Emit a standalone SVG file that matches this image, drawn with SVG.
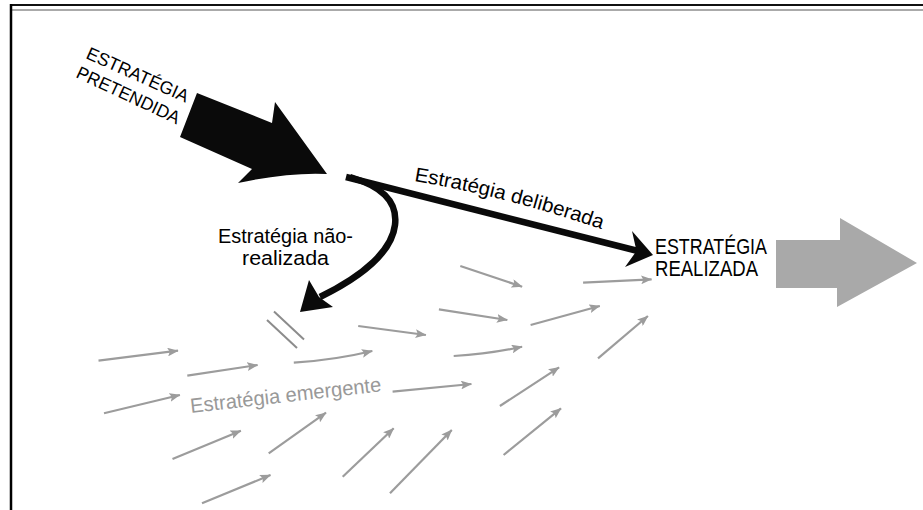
<svg xmlns="http://www.w3.org/2000/svg" width="923" height="510" viewBox="0 0 923 510">
<defs>
<style>
.t{font-family:"Liberation Sans",Arial,sans-serif;fill:#000}
.g{font-family:"Liberation Sans",Arial,sans-serif;fill:#999}
.sa{stroke:#9c9c9c;stroke-width:2.2;fill:none;marker-end:url(#ga)}
</style>
<marker id="ga" viewBox="0 0 10 8" refX="9.5" refY="4" markerWidth="5" markerHeight="4" orient="auto" markerUnits="strokeWidth">
<path d="M0,0 L10,4 L0,8 L2,4 Z" fill="#9c9c9c"/>
</marker>
</defs>
<rect width="923" height="510" fill="#fff"/>
<g id="frame">
<line x1="10" y1="5" x2="923" y2="5" stroke="#111" stroke-width="2"/>
<line x1="12" y1="10" x2="923" y2="10" stroke="#aaa" stroke-width="2"/>
<line x1="11" y1="4" x2="11" y2="510" stroke="#000" stroke-width="2.5"/>
</g>
<g id="pretendida">
<path d="M197,93 L272,123 L275,102 L327,174 Q290,172 238,183 L252,169 L180,137 Z" fill="#0a0a0a"/>
<text class="t" font-size="18" transform="translate(85,58) rotate(24)" textLength="110" lengthAdjust="spacingAndGlyphs">ESTRATÉGIA</text>
<text class="t" font-size="18" transform="translate(75,77) rotate(25)" textLength="112" lengthAdjust="spacingAndGlyphs">PRETENDIDA</text>
</g>
<g id="connectors">
<line x1="346" y1="177" x2="638" y2="251" stroke="#0a0a0a" stroke-width="6.5"/>
<path d="M653,255 L632,231 L636.5,251 L625,267 Z" fill="#0a0a0a"/>
<path d="M350,177 C380,186 398,200 395,225 C392,250 365,275 320,297" stroke="#0a0a0a" stroke-width="6.5" fill="none"/>
<path d="M300,312 L309,280 L319,297 L333,307 Z" fill="#0a0a0a"/>
</g>
<g id="deliberada">
<path id="dp" d="M414,181 Q505,196 604,230" fill="none"/>
<text class="t" font-size="20"><textPath href="#dp" textLength="194" lengthAdjust="spacingAndGlyphs">Estratégia deliberada</textPath></text>
</g>
<g id="nao-realizada">
<text class="t" font-size="20.5" x="218" y="243" textLength="135" lengthAdjust="spacingAndGlyphs">Estratégia não-</text>
<text class="t" font-size="20.5" x="242" y="265" textLength="87" lengthAdjust="spacingAndGlyphs">realizada</text>
<line x1="267" y1="320" x2="297" y2="348" stroke="#8c8c8c" stroke-width="2"/>
<line x1="274" y1="311.5" x2="304" y2="339.5" stroke="#8c8c8c" stroke-width="2"/>
</g>
<g id="realizada">
<text class="t" font-size="21.5" x="655" y="254" textLength="112" lengthAdjust="spacingAndGlyphs">ESTRATÉGIA</text>
<text class="t" font-size="21.5" x="655" y="276" textLength="103" lengthAdjust="spacingAndGlyphs">REALIZADA</text>
<path d="M776,240 L840,240 L840,218 L917,263 L837,307 L837,288 L776,288 Z" fill="#a9a9a9"/>
</g>
<g id="emergente">
<text class="g" font-size="20.5" transform="translate(191,413) rotate(-6.5)" textLength="192" lengthAdjust="spacingAndGlyphs">Estratégia emergente</text>
<line class="sa" x1="98.5" y1="360.7" x2="178" y2="350.7"/>
<line class="sa" x1="187.3" y1="375.7" x2="257.6" y2="365"/>
<line class="sa" x1="104" y1="413.3" x2="179.9" y2="395"/>
<line class="sa" x1="172.5" y1="459" x2="240.9" y2="430.7"/>
<line class="sa" x1="268.7" y1="453.3" x2="326" y2="412.7"/>
<line class="sa" x1="202" y1="503.3" x2="270.5" y2="475"/>
<line class="sa" x1="342.7" y1="476.7" x2="393.7" y2="428.3"/>
<line class="sa" x1="390" y1="493.3" x2="451.8" y2="430"/>
<path class="sa" d="M293.8,362.7 Q335,360 372.3,351"/>
<line class="sa" x1="358.2" y1="326" x2="425.9" y2="335"/>
<line class="sa" x1="392.6" y1="391.7" x2="471.4" y2="384"/>
<line class="sa" x1="438.9" y1="309.3" x2="507.3" y2="320"/>
<line class="sa" x1="460.3" y1="266" x2="522.1" y2="286.7"/>
<path class="sa" d="M453.7,356 Q490,354 522.1,346.7"/>
<line class="sa" x1="499.9" y1="406" x2="559.1" y2="367.3"/>
<line class="sa" x1="503.6" y1="455" x2="561" y2="408.3"/>
<line class="sa" x1="530.6" y1="325" x2="599.8" y2="306"/>
<line class="sa" x1="583.1" y1="282.7" x2="651.6" y2="279.3"/>
<line class="sa" x1="598" y1="358.3" x2="647.9" y2="316"/>
</g>
</svg>
